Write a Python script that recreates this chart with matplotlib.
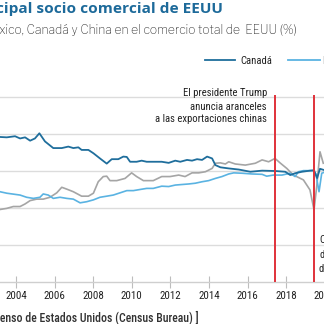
import matplotlib.pyplot as plt
from matplotlib import font_manager

# Cuota en el comercio total de EEUU (%)
canada_years = [2003.17, 2003.52, 2003.95, 2004.21, 2004.47, 2004.73, 2004.98, 2005.21, 2005.50,
                2005.93, 2006.37, 2006.71, 2006.97, 2007.23, 2007.40, 2007.75, 2008.01, 2008.35,
                2008.70, 2008.96, 2009.30, 2009.56, 2009.74, 2009.91, 2010.25, 2010.51, 2010.77,
                2011.55, 2011.91, 2012.25, 2012.51, 2012.86, 2013.12, 2013.38, 2013.64, 2013.90,
                2014.16, 2014.33, 2014.59, 2015.02, 2015.54, 2016.14, 2016.75, 2017.44, 2017.95,
                2018.21, 2018.46, 2018.82, 2019.23, 2019.44, 2019.60, 2019.75, 2020.00]
canada_vals = [19.6, 19.55, 19.7, 19.4, 19.55, 19.1, 19.4, 20.1, 19.0,
               18.1, 18.1, 18.3, 18.1, 18.2, 17.85, 17.85, 17.4, 16.7,
               16.0, 16.6, 16.6, 16.95, 16.9, 16.25, 16.25, 16.4, 16.25,
               16.25, 16.1, 16.4, 16.25, 16.5, 16.4, 16.6, 16.5, 16.95,
               16.7, 15.8, 15.5, 15.35, 15.2, 14.9, 15.05, 15.0, 14.9,
               14.45, 14.7, 14.9, 15.05, 15.1, 14.05, 15.3, 15.1]

mexico_years = [2003.17, 2003.52, 2004.21, 2004.55, 2004.90, 2005.24, 2005.41, 2005.67, 2005.93,
                2006.28, 2006.63, 2006.97, 2007.32, 2007.66, 2008.01, 2008.35, 2008.70, 2009.04,
                2009.39, 2009.74, 2010.08, 2010.42, 2010.77, 2011.11, 2011.55, 2011.91, 2012.25,
                2012.95, 2013.29, 2013.64, 2013.98, 2014.33, 2014.67, 2015.02, 2015.28, 2015.71,
                2016.23, 2016.75, 2016.99, 2017.33, 2017.78, 2018.20, 2018.46, 2018.63, 2018.89,
                2019.39, 2019.54, 2019.70, 2019.84, 2020.00]
mexico_vals = [12.2, 12.0, 11.75, 11.45, 11.3, 11.45, 11.9, 11.75, 11.3,
               11.45, 11.3, 11.2, 10.7, 10.85, 11.1, 11.45, 11.6, 11.75,
               12.05, 12.35, 12.35, 12.5, 12.65, 12.65, 12.95, 12.9, 13.1,
               13.25, 13.35, 13.55, 13.7, 14.0, 14.25, 14.6, 14.75, 14.7,
               14.6, 14.55, 14.3, 14.45, 14.45, 14.7, 14.25, 14.9, 15.05,
               15.05, 14.6, 12.2, 14.7, 14.85]

china_years = [2003.17, 2003.52, 2003.86, 2004.21, 2004.47, 2004.73, 2005.07, 2005.41, 2005.76,
               2006.11, 2006.37, 2006.63, 2006.97, 2007.40, 2007.75, 2008.01, 2008.26, 2008.52,
               2008.70, 2008.87, 2009.22, 2009.65, 2009.99, 2010.25, 2010.60, 2011.11, 2011.55,
               2011.98, 2012.43, 2012.76, 2013.12, 2013.47, 2013.81, 2014.16, 2014.33, 2014.59,
               2014.85, 2015.02, 2015.36, 2015.88, 2016.40, 2016.75, 2017.09, 2017.42, 2017.68,
               2018.03, 2018.20, 2018.38, 2018.89, 2019.23, 2019.44, 2019.58, 2019.75, 2019.92]
china_vals = [9.8, 9.95, 10.2, 10.2, 10.55, 11.0, 11.2, 11.2, 11.45,
              12.05, 12.8, 12.55, 12.2, 11.6, 11.6, 12.0, 13.55, 14.25,
              14.3, 13.7, 13.7, 14.0, 14.75, 14.25, 13.7, 13.7, 14.25,
              14.25, 14.45, 14.25, 14.75, 14.75, 14.9, 15.35, 16.05, 16.1,
              15.95, 16.25, 15.95, 15.8, 16.05, 16.5, 16.25, 16.7, 16.1,
              15.35, 14.9, 14.45, 13.8, 12.45, 9.75, 12.9, 17.6, 16.05]

events = [2017.42, 2019.44]
year_ticks = list(range(2004, 2021, 2))

fonts = font_manager.fontManager.ttflist
installed = set(f.name for f in fonts)


def pick(*names):
    for n in names:
        if n in installed:
            return n
    return 'DejaVu Sans'


def pick_bold(*names):
    # solo familias con un archivo realmente en negrita
    for n in names:
        if any(f.name == n and f.weight in (700, 'bold') for f in fonts):
            return n
    return 'DejaVu Sans'


narrow = pick('Roboto Condensed', 'Archivo Narrow', 'PT Sans Narrow', 'Liberation Sans Narrow')
franklin = pick('Libre Franklin', 'Roboto')
title_font = pick_bold('Libre Franklin', 'Open Sans', 'Roboto')
W, H = 324, 324

fig = plt.figure(figsize=(3.24, 3.24), dpi=100)
# eje mas ancho que la figura: el grafico original esta recortado a los lados
ax = fig.add_axes([0, 42 / H, 380 / W, 187.2 / H])
ax.set_xlim(2003.17, 2003.17 + 380 / 19.3)
ax.set_ylim(0, 25.3)

for v in [5, 10, 15, 20, 25]:
    ax.axhline(v, color='#dcdcdc', lw=1.0, zorder=1)

ax.plot(china_years, china_vals, color='#a5a5a5', lw=1.2, zorder=3)
ax.plot(mexico_years, mexico_vals, color='#5ab3e2', lw=1.2, zorder=4)
ax.plot(canada_years, canada_vals, color='#1f6e9c', lw=1.3, zorder=5)

for e in events:
    ax.axvline(e, color='#e0313a', lw=1.4, zorder=6)

for s in ['top', 'right', 'left']:
    ax.spines[s].set_visible(False)
ax.spines['bottom'].set_color('#cfcfcf')
ax.spines['bottom'].set_linewidth(1.0)
ax.set_yticks([])
ax.set_xticks(year_ticks)
ax.set_xticklabels([str(y) for y in year_ticks], fontsize=7.9, family=narrow, color='#222222')
ax.tick_params(axis='x', direction='inout', length=8.5, width=0.8, color='#bdbdbd', pad=2.5)


def ftext(x, y, s, **kw):
    fig.text(x / W, 1 - y / H, s, **kw)


ftext(223, 13, 'México, principal socio comercial de EEUU', ha='right', va='baseline',
      fontsize=11.1, fontweight='bold', family=title_font, color='#1d6a9a')
ftext(297, 34, 'Peso de México, Canadá y China en el comercio total de  EEUU (%)', ha='right',
      va='baseline', fontsize=8.7, family=franklin, color='#333333')

# leyenda a mano
fig.add_artist(plt.Line2D([205 / W, 235 / W], [1 - 60 / H] * 2, color='#1f6e9c', lw=1.3))
ftext(240, 64, 'Canadá', ha='left', va='baseline', fontsize=7.7, family=narrow, color='#222222')
fig.add_artist(plt.Line2D([288 / W, 320 / W], [1 - 60 / H] * 2, color='#5ab3e2', lw=1.3))
ftext(322, 64, 'México', ha='left', va='baseline', fontsize=7.7, family=narrow, color='#222222')

for yb, s in zip([96, 109.5, 122.5],
                 ['El presidente Trump', 'anuncia aranceles', 'a las exportaciones chinas']):
    ftext(267, yb, s, ha='right', va='baseline', fontsize=7.7, family=narrow, color='#222222')
for yb, s in zip([243, 257.5, 272], ['Coronavirus', 'desplome', 'del comercio']):
    ftext(319, yb, s, ha='left', va='baseline', fontsize=7.7, family=narrow, color='#222222')

ftext(199, 321, '[ Fuente: Oficina del Censo de Estados Unidos (Census Bureau) ]', ha='right',
      va='baseline', fontsize=8.5, family=narrow, fontweight='medium', color='#333333')

fig.savefig('out.png', dpi=100)
